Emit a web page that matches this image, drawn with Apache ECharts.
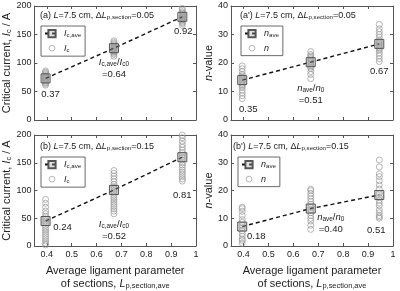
<!DOCTYPE html>
<html>
<head>
<meta charset="utf-8">
<script src="https://cdn.jsdelivr.net/npm/echarts@6/dist/echarts.min.js"></script>
<style>
html, body { margin: 0; padding: 0; background: #fff; }
#chart { width: 400px; height: 291px; }
</style>
</head>
<body>
<div id="chart"></div>
<script>
// average ligament parameter of the three section groups
const lpAve = [0.395, 0.67, 0.945];
const xTicks = [0.4, 0.5, 0.6, 0.7, 0.8, 0.9, 1];

// (a) dLp,section = 0.05 : critical current of each section
const icA = [
	[61, 63, 65, 66, 68, 69, 70, 71, 72, 73, 74, 75, 76, 77, 78, 80, 82, 84, 86],
	[112, 115, 117, 119, 120, 121, 122, 123, 124, 125, 126, 127, 128, 129, 130, 132, 134, 136, 139],
	[166, 169, 171, 173, 175, 176, 177, 178, 179, 180, 181, 182, 183, 184, 186, 188, 190, 193, 196]
];
const icAveA = [73, 126, 181];
const icRatioA = ['0.37', '0.64', '0.92'];

// (b) dLp,section = 0.15 : critical current
const icB = [
	[2, 5, 9, 13, 17, 21, 25, 29, 33, 37, 41, 45, 49, 53, 58, 63, 70, 77, 84],
	[58, 63, 67, 71, 75, 79, 83, 87, 91, 95, 99, 103, 107, 111, 116, 121, 126, 131, 136],
	[117, 121, 125, 129, 133, 137, 142, 146, 150, 155, 160, 164, 168, 173, 178, 183, 189, 195, 200]
];
const icAveB = [45, 101, 160];
const icRatioB = ['0.24', '0.52', '0.81'];

// (a') n-value
const nA = [
	[7.5, 8.5, 9.5, 10.5, 11.5, 12, 12.5, 13, 13.5, 14, 14.5, 15, 15.5, 16, 17, 18, 19],
	[14.5, 16, 17, 18, 18.5, 19, 19.5, 20, 20.5, 21, 21.5, 22, 22.5, 23, 24],
	[20.5, 21.5, 22.5, 23.5, 24.5, 25, 25.5, 26, 26.5, 27, 27.5, 28, 29, 30, 31, 32, 33.5]
];
const nAveA = [14, 20.3, 26.7];
const nRatioA = ['0.35', '0.51', '0.67'];

// (b') n-value
const nB = [
	[1, 2, 2.5, 3.5, 4.5, 5.5, 6.5, 7.5, 8.5, 9.5, 11, 12.5, 13.5, 14],
	[6, 7.5, 9, 10, 11, 12, 13, 14, 15, 16, 17, 18, 19, 20, 20.5],
	[10, 10.5, 11, 12, 13, 14.5, 15.5, 16.5, 17.5, 19, 20.5, 22, 23.5, 25, 26, 28.5, 31]
];
const nAveB = [7, 13.5, 18.4];
const nRatioB = ['0.18', '0.40', '0.51'];

const FONT = '"Liberation Sans", Arial, sans-serif';
const INK = '#222';
const FRAME = '#555';
const DOT = '#9a9a9a';

function rich(fs) {
	return {
		i: { fontSize: fs, fontStyle: 'italic', color: INK, fontFamily: FONT },
		s: { fontSize: fs * 0.68, padding: [fs * 0.45, 0, 0, 0], color: INK, fontFamily: FONT }
	};
}

const legendText = {
	'Ic,ave': '{i|I}{s|c,ave}',
	'Ic': '{i|I}{s|c}',
	'nave': '{i|n}{s|ave}',
	'n': '{i|n}'
};

// small open circle for the legend entry of the single sections
const circleIcon = 'image://data:image/svg+xml;utf8,' + encodeURIComponent(
	'<svg xmlns="http://www.w3.org/2000/svg" width="14" height="9">' +
	'<circle cx="7" cy="4.5" r="2.9" fill="none" stroke="' + DOT + '" stroke-width="0.9"/></svg>');

const panels = [
	{
		grid: { left: 34, top: 6, width: 162, height: 114 },
		max: 200, interval: 50, bottom: false, left: true,
		vals: icA, ave: icAveA, ratio: icRatioA,
		names: ['Ic,ave', 'Ic'],
		title: '(a) {i|L}=7.5 cm, Δ{i|L}{s|p,section}=0.05', titlePos: [40, 10],
		legendPos: [41, 26],
		mid: '{i|I}{s|c,ave}/{i|I}{s|c0}',
		offs: [[5, 16], [0, 20], [1, 15]]
	},
	{
		grid: { left: 34, top: 135, width: 162, height: 114 },
		max: 200, interval: 50, bottom: true, left: true,
		vals: icB, ave: icAveB, ratio: icRatioB,
		names: ['Ic,ave', 'Ic'],
		title: '(b) {i|L}=7.5 cm, Δ{i|L}{s|p,section}=0.15', titlePos: [40, 141],
		legendPos: [41, 157],
		mid: '{i|I}{s|c,ave}/{i|I}{s|c0}',
		offs: [[17, 6], [0, 40], [0, 38]]
	},
	{
		grid: { left: 231, top: 6, width: 162, height: 114 },
		max: 40, interval: 10, bottom: false, left: false,
		vals: nA, ave: nAveA, ratio: nRatioA,
		names: ['nave', 'n'],
		title: "(a') {i|L}=7.5 cm, Δ{i|L}{s|p,section}=0.05", titlePos: [240, 10],
		legendPos: [241, 26],
		mid: '{i|n}{s|ave}/{i|n}{s|0}',
		offs: [[6, 29], [0, 32], [0, 27]]
	},
	{
		grid: { left: 231, top: 135, width: 162, height: 114 },
		max: 40, interval: 10, bottom: true, left: false,
		vals: nB, ave: nAveB, ratio: nRatioB,
		names: ['nave', 'n'],
		title: "(b') {i|L}=7.5 cm, Δ{i|L}{s|p,section}=0.15", titlePos: [233, 141],
		legendPos: [238, 157],
		mid: '{i|n}{s|ave}/{i|n}{s|0}',
		offs: [[14, 10], [20, 15], [-3, 35]]
	}
];

const xName = 'Average ligament parameter\nof sections, {i|L}{s|p,section,ave}';

const option = {
	animation: false,
	textStyle: { fontFamily: FONT, color: INK },
	grid: [], xAxis: [], yAxis: [], series: [], legend: [], title: []
};

panels.forEach((p, g) => {
	option.grid.push(p.grid);

	[true, false].forEach(isBottom => {
		const labelled = isBottom && p.bottom;
		option.xAxis.push({
			type: 'value', gridIndex: g, position: isBottom ? 'bottom' : 'top',
			min: 0.35, max: 1,
			axisLine: { show: true, onZero: false, lineStyle: { color: FRAME, width: 1 } },
			axisTick: { show: true, inside: true, length: 3, customValues: xTicks, lineStyle: { color: FRAME } },
			axisLabel: { show: labelled, customValues: xTicks, fontSize: 9, color: INK, margin: 4 },
			splitLine: { show: false },
			name: labelled ? xName : '',
			nameLocation: 'middle', nameGap: 18,
			nameTextStyle: { fontSize: 11, lineHeight: 13, color: INK, rich: rich(11) }
		});
	});

	[true, false].forEach(isLeft => {
		option.yAxis.push({
			type: 'value', gridIndex: g, position: isLeft ? 'left' : 'right',
			min: 0, max: p.max, interval: p.interval,
			axisLine: { show: true, onZero: false, lineStyle: { color: FRAME, width: 1 } },
			axisTick: { show: true, inside: true, length: 3, lineStyle: { color: FRAME } },
			axisLabel: { show: isLeft, fontSize: 9, color: INK, margin: 3 },
			splitLine: { show: false },
			name: isLeft ? (p.left ? 'Critical current, {i|I}{s|c} / A' : '{i|n}-value') : '',
			nameLocation: 'middle', nameGap: p.left ? 20 : 15,
			nameTextStyle: { fontSize: 11, color: INK, rich: rich(11) }
		});
	});

	// individual sections
	const pts = [];
	p.vals.forEach((list, k) => list.forEach(v => pts.push([lpAve[k], v])));
	option.series.push({
		name: p.names[1], type: 'scatter', xAxisIndex: 2 * g, yAxisIndex: 2 * g,
		symbol: 'circle', symbolSize: 6,
		itemStyle: { color: 'rgba(255,255,255,0)', borderColor: DOT, borderWidth: 0.9 },
		data: pts, z: 2
	});

	// averages with dashed trend
	option.series.push({
		name: p.names[0], type: 'line', xAxisIndex: 2 * g, yAxisIndex: 2 * g,
		symbol: 'rect', symbolSize: 9,
		itemStyle: { color: 'rgba(170,170,170,0.35)', borderColor: '#555', borderWidth: 1 },
		lineStyle: { color: '#111', width: 1.4, type: [4, 3] },
		label: { show: true, position: 'inside', fontSize: 9.5, color: INK, lineHeight: 12, rich: rich(9.5) },
		data: p.ave.map((v, k) => ({
			value: [lpAve[k], v],
			label: {
				formatter: k === 1 ? p.mid + '\n=' + p.ratio[k] : p.ratio[k],
				offset: p.offs[k]
			}
		})),
		z: 3
	});

	option.legend.push({
		data: [{ name: p.names[0] }, { name: p.names[1], icon: circleIcon }],
		orient: 'vertical', left: p.legendPos[0], top: p.legendPos[1],
		selectedMode: false, itemWidth: 14, itemHeight: 9, itemGap: 5,
		padding: [3, 4, 3, 3], borderColor: '#444', borderWidth: 0.8,
		formatter: n => legendText[n],
		textStyle: { fontSize: 9, color: INK, rich: rich(9) }
	});

	option.title.push({
		text: p.title, left: p.titlePos[0], top: p.titlePos[1], padding: 0,
		textStyle: { fontSize: 9, fontWeight: 'normal', color: INK, rich: rich(9) }
	});
});

const chart = echarts.init(document.getElementById('chart'));
chart.setOption(option);
</script>
</body>
</html>
